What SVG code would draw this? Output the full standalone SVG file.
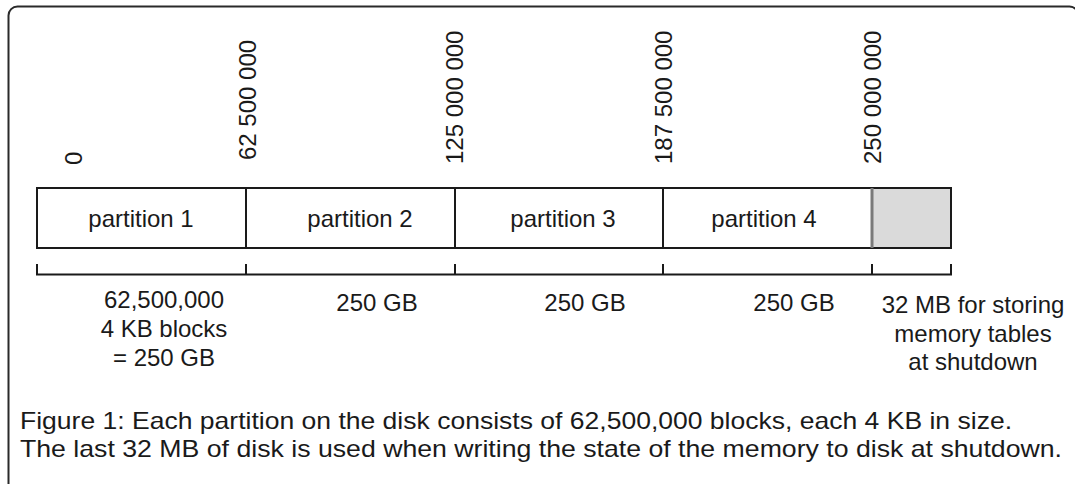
<svg xmlns="http://www.w3.org/2000/svg" width="1075" height="484" viewBox="0 0 1075 484">
<style>
text{font-family:"Liberation Sans",Arial,Helvetica,sans-serif;fill:#1a1a1a}
.lbl{font-size:24px;text-anchor:middle}
.num{font-size:24px;text-anchor:start}
.cap{font-size:24px}
.box{fill:#fff;stroke:#1a1a1a;stroke-width:2}
.line{stroke:#1a1a1a;stroke-width:2;fill:none}
</style>
<rect x="8.5" y="6.5" width="1070" height="500" rx="9" fill="#fff" stroke="#2a2a2a" stroke-width="2"/>
<g id="offsets">
<text class="num" transform="translate(81.5,165) rotate(-90)">0</text>
<text class="num" transform="translate(256,160) rotate(-90)">62 500 000</text>
<text class="num" transform="translate(463,164) rotate(-90)">125 000 000</text>
<text class="num" transform="translate(672,164) rotate(-90)">187 500 000</text>
<text class="num" transform="translate(881,164) rotate(-90)">250 000 000</text>
</g>
<g id="partition1"><rect class="box" x="37" y="188" width="209" height="60"/><text class="lbl" x="141" y="227">partition 1</text></g>
<g id="partition2"><rect class="box" x="246" y="188" width="209" height="60"/><text class="lbl" x="360" y="227">partition 2</text></g>
<g id="partition3"><rect class="box" x="455" y="188" width="208" height="60"/><text class="lbl" x="563" y="227">partition 3</text></g>
<g id="partition4"><rect class="box" x="663" y="188" width="209" height="60"/><text class="lbl" x="764" y="227">partition 4</text></g>
<g id="reserved"><rect x="872" y="188" width="79" height="60" fill="#dadada" stroke="#1a1a1a" stroke-width="2"/><line x1="872" y1="188" x2="872" y2="248" stroke="#7a7a7a" stroke-width="3"/></g>
<g id="connectors">
<path class="line" d="M37,264 V274.5 H951 V264 M246,264 V274.5 M455,264 V274.5 M663,264 V274.5 M872,264 V274.5"/>
</g>
<g id="sizes">
<text class="lbl" x="164" y="308">62,500,000</text>
<text class="lbl" x="164" y="337">4 KB blocks</text>
<text class="lbl" x="164" y="366">= 250 GB</text>
<text class="lbl" x="377" y="311">250 GB</text>
<text class="lbl" x="585" y="311">250 GB</text>
<text class="lbl" x="794" y="311">250 GB</text>
<text class="lbl" x="973" y="313">32 MB for storing</text>
<text class="lbl" x="973" y="342">memory tables</text>
<text class="lbl" x="973" y="370">at shutdown</text>
</g>
<g id="caption">
<text class="cap" x="20" y="429" textLength="992" lengthAdjust="spacingAndGlyphs">Figure 1: Each partition on the disk consists of 62,500,000 blocks, each 4 KB in size.</text>
<text class="cap" x="20" y="457" textLength="1042" lengthAdjust="spacingAndGlyphs">The last 32 MB of disk is used when writing the state of the memory to disk at shutdown.</text>
</g>
</svg>
